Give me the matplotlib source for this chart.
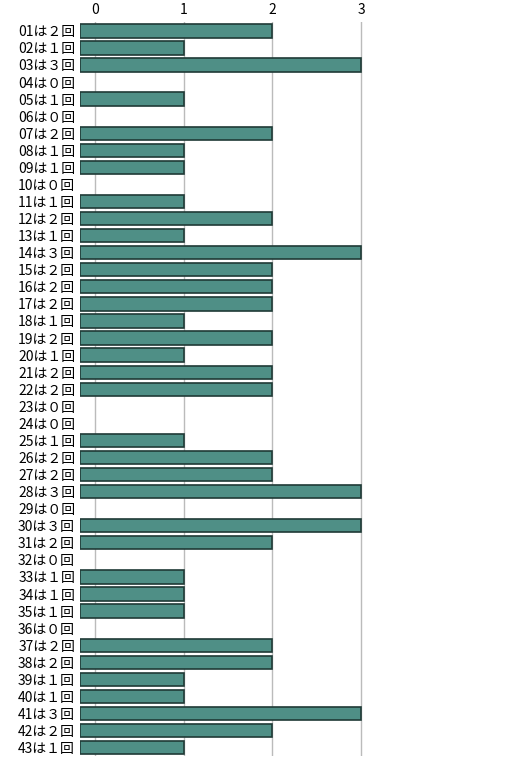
import matplotlib
matplotlib.use("Agg")
import matplotlib.pyplot as plt

plt.rcParams['font.family'] = ['Noto Sans CJK JP', 'DejaVu Sans']

ids = [f"{i:02d}" for i in range(1, 44)]
values = [2,1,3,0,1,0,2,1,1,0,1,2,1,3,2,2,2,1,2,1,2,2,0,0,1,2,2,3,0,3,2,0,1,1,1,0,2,2,1,1,3,2,1]
fw = str.maketrans("0123456789", "０１２３４５６７８９")
labels = [f"{a}は{str(v).translate(fw)}回" for a, v in zip(ids, values)]

fig = plt.figure(figsize=(5.26, 7.7), dpi=100)
ax = fig.add_axes([0.152, 0.018, 0.56, 0.953])
n = len(values)
y = list(range(n))
yb = [i for i, v in zip(y, values) if v > 0]
vb = [v + 0.17 for v in values if v > 0]
ax.barh(yb, vb, left=-0.17, height=0.78,
        color="#4f8f86", edgecolor="#1f3a36", linewidth=1.2, zorder=3)
ax.set_ylim(n - 0.5, -0.5)
ax.set_xlim(-0.17, 3.15)
ax.set_yticks(y)
ax.set_yticklabels(labels, fontsize=9)
ax.set_xticks([0, 1, 2, 3])
ax.xaxis.tick_top()
ax.tick_params(length=0, labelsize=10)
ax.grid(axis="x", color="#bbbbbb", linewidth=1, zorder=0)
for s in ax.spines.values():
    s.set_visible(False)
fig.savefig("out.png")
